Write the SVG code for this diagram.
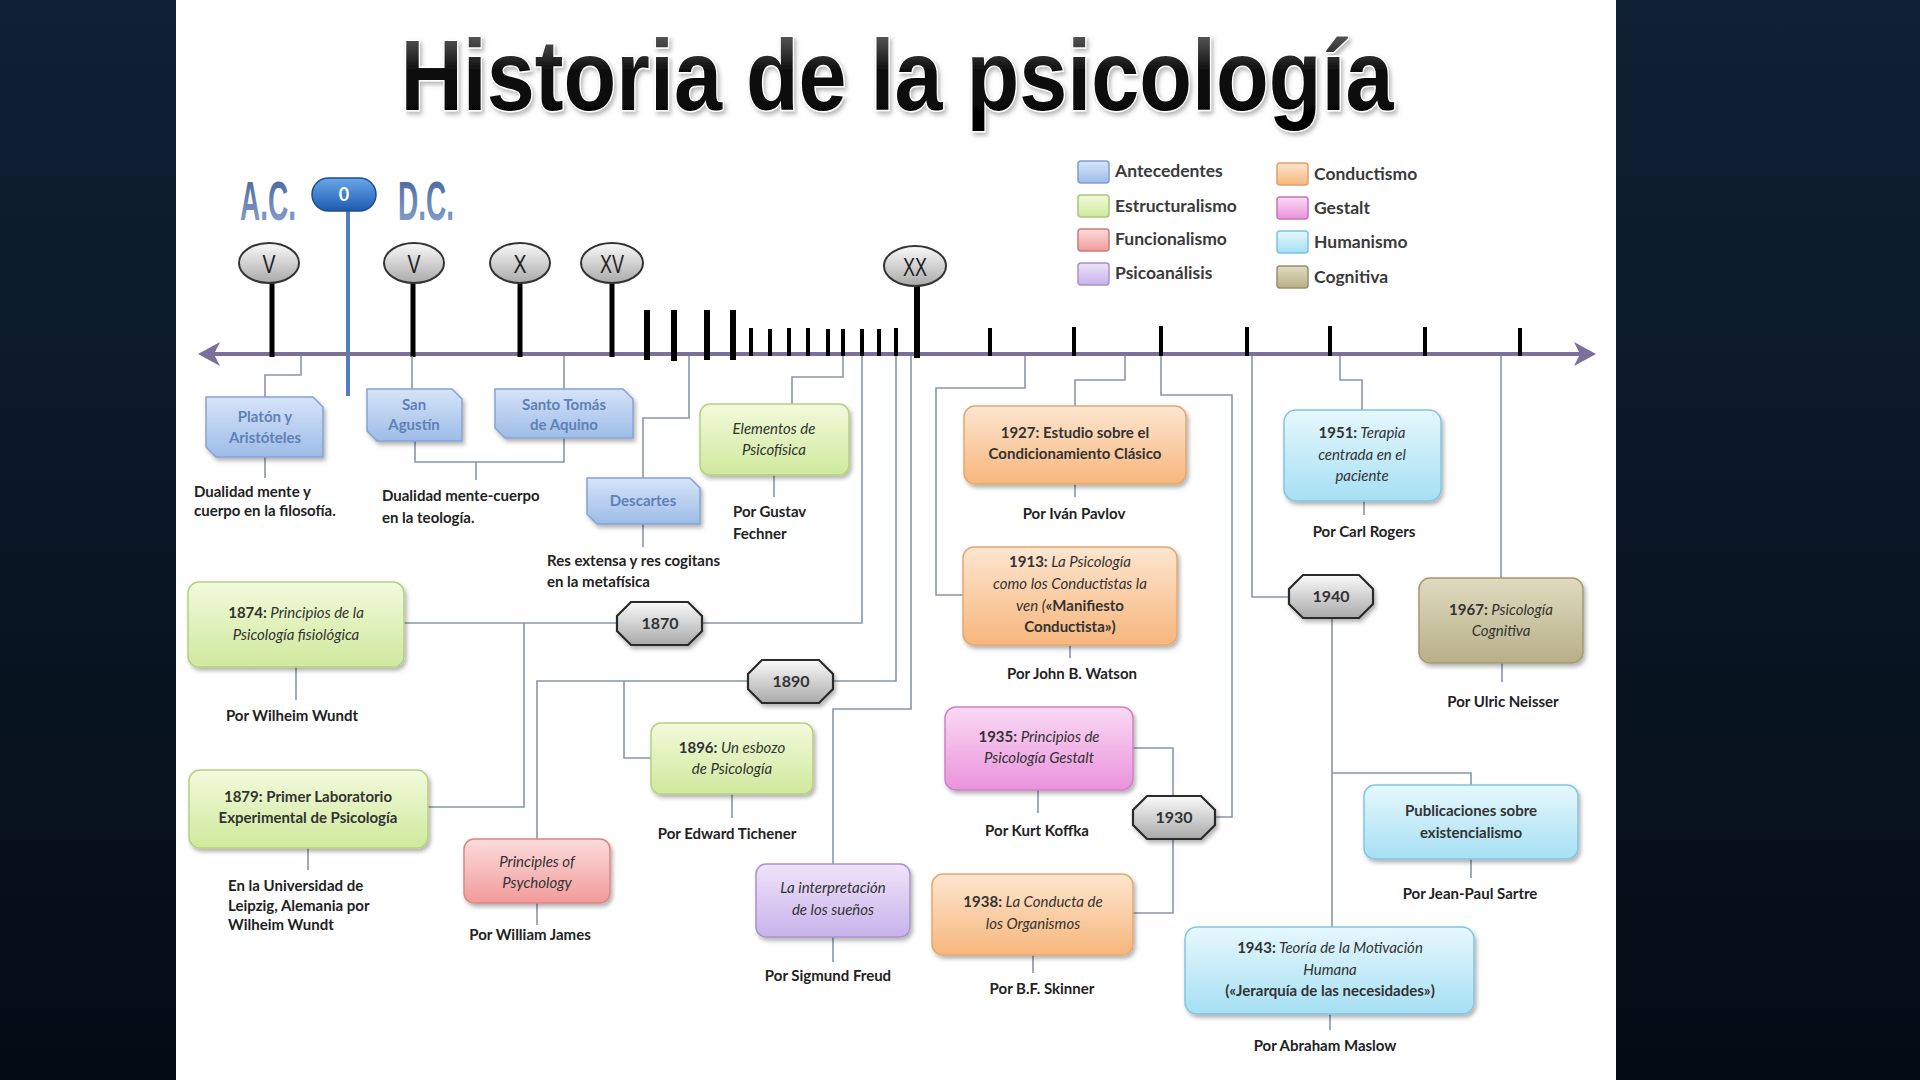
<svg xmlns="http://www.w3.org/2000/svg" width="1920" height="1080" viewBox="0 0 1920 1080">
<defs>
<linearGradient id="bg" x1="0" y1="0" x2="0" y2="1"><stop offset="0" stop-color="#0f2134"/><stop offset="1" stop-color="#040b15"/></linearGradient>
<linearGradient id="tg" x1="0" y1="0" x2="0" y2="1"><stop offset="0" stop-color="#777"/><stop offset="0.45" stop-color="#111"/><stop offset="1" stop-color="#000"/></linearGradient>
<linearGradient id="acg" x1="0" y1="0" x2="0" y2="1"><stop offset="0" stop-color="#3f5f98"/><stop offset="1" stop-color="#8fa8d0"/></linearGradient>
<linearGradient id="pill" x1="0" y1="0" x2="0" y2="1"><stop offset="0" stop-color="#6aa8ea"/><stop offset="1" stop-color="#1d5aae"/></linearGradient>
<linearGradient id="gray" x1="0" y1="0" x2="0" y2="1"><stop offset="0" stop-color="#fafafa"/><stop offset="1" stop-color="#a9a9a9"/></linearGradient>
<linearGradient id="gBlue" x1="0" y1="0" x2="0" y2="1"><stop offset="0" stop-color="#d6e4f8"/><stop offset="1" stop-color="#9dbce8"/></linearGradient>
<linearGradient id="gGreen" x1="0" y1="0" x2="0" y2="1"><stop offset="0" stop-color="#f2fadc"/><stop offset="1" stop-color="#cfe99c"/></linearGradient>
<linearGradient id="gRed" x1="0" y1="0" x2="0" y2="1"><stop offset="0" stop-color="#fcdcdc"/><stop offset="1" stop-color="#f29a9a"/></linearGradient>
<linearGradient id="gPurple" x1="0" y1="0" x2="0" y2="1"><stop offset="0" stop-color="#eee4fa"/><stop offset="1" stop-color="#c8b2ea"/></linearGradient>
<linearGradient id="gOrange" x1="0" y1="0" x2="0" y2="1"><stop offset="0" stop-color="#fde6d0"/><stop offset="1" stop-color="#f7b67c"/></linearGradient>
<linearGradient id="gPink" x1="0" y1="0" x2="0" y2="1"><stop offset="0" stop-color="#fadaf4"/><stop offset="1" stop-color="#ea92dc"/></linearGradient>
<linearGradient id="gCyan" x1="0" y1="0" x2="0" y2="1"><stop offset="0" stop-color="#e6f8fd"/><stop offset="1" stop-color="#a6dff3"/></linearGradient>
<linearGradient id="gKhaki" x1="0" y1="0" x2="0" y2="1"><stop offset="0" stop-color="#e0dbc0"/><stop offset="1" stop-color="#b8af88"/></linearGradient>
<filter id="sh" x="-10%" y="-10%" width="130%" height="140%"><feDropShadow dx="2" dy="3" stdDeviation="2" flood-color="#000" flood-opacity="0.3"/></filter>
<filter id="tsh" x="-5%" y="-10%" width="110%" height="130%"><feDropShadow dx="2" dy="3" stdDeviation="2" flood-color="#888" flood-opacity="0.6"/></filter>
<style>
.conn{fill:none;stroke:#8797ab;stroke-width:1.6}
.stick{stroke:#000;stroke-linecap:butt}
.lbl{font-family:Lato,"Liberation Sans",sans-serif;font-weight:700;font-size:15px;fill:#222}
.bt{font-family:Lato,"Liberation Sans",sans-serif;font-size:15px;fill:#333;text-anchor:middle}
.b{font-weight:700}
.i{font-style:italic}
.bluet{font-family:Lato,"Liberation Sans",sans-serif;font-size:15px;font-weight:700;fill:#6180b6;text-anchor:middle}
.leg{font-family:Lato,"Liberation Sans",sans-serif;font-size:17.5px;font-weight:700;fill:#3a3a3a}
.num{font-family:"Liberation Sans",sans-serif;font-size:26px;fill:#222;text-anchor:middle}
.yr{font-family:Lato,"Liberation Sans",sans-serif;font-size:16px;font-weight:700;fill:#333;text-anchor:middle}
.era{font-family:"Liberation Sans",sans-serif;font-weight:700;font-size:56px;fill:url(#acg);text-anchor:middle}
.oval{fill:url(#gray);stroke:#333;stroke-width:2}
.hex{fill:url(#gray);stroke:#2a2a2a;stroke-width:2.2}
</style>
</defs>
<rect x="0" y="0" width="1920" height="1080" fill="url(#bg)"/>
<rect x="176" y="0" width="1440" height="1080" fill="#fff"/>

<g id="title">
<text x="897" y="110" text-anchor="middle" font-family="'Liberation Sans',sans-serif" font-weight="700" font-size="100" textLength="993" lengthAdjust="spacingAndGlyphs" fill="url(#tg)" stroke="#fff" stroke-width="3" paint-order="stroke" filter="url(#tsh)">Historia de la psicología</text>
</g>

<g id="legend">
<rect x="1078" y="161" width="31" height="22" rx="3" fill="url(#gBlue)" stroke="#7f9fcf" stroke-width="1.5"/>
<rect x="1078" y="195" width="31" height="22" rx="3" fill="url(#gGreen)" stroke="#a9c67a" stroke-width="1.5"/>
<rect x="1078" y="229" width="31" height="22" rx="3" fill="url(#gRed)" stroke="#d07a7a" stroke-width="1.5"/>
<rect x="1078" y="263" width="31" height="22" rx="3" fill="url(#gPurple)" stroke="#a892c8" stroke-width="1.5"/>
<rect x="1277" y="163" width="31" height="22" rx="3" fill="url(#gOrange)" stroke="#e0a06a" stroke-width="1.5"/>
<rect x="1277" y="197" width="31" height="22" rx="3" fill="url(#gPink)" stroke="#c874b8" stroke-width="1.5"/>
<rect x="1277" y="231" width="31" height="22" rx="3" fill="url(#gCyan)" stroke="#7cc2de" stroke-width="1.5"/>
<rect x="1277" y="266" width="31" height="22" rx="3" fill="url(#gKhaki)" stroke="#99906a" stroke-width="1.5"/>
<text class="leg" x="1115" y="177">Antecedentes</text>
<text class="leg" x="1115" y="212">Estructuralismo</text>
<text class="leg" x="1115" y="245">Funcionalismo</text>
<text class="leg" x="1115" y="279">Psicoanálisis</text>
<text class="leg" x="1314" y="180">Conductismo</text>
<text class="leg" x="1314" y="214">Gestalt</text>
<text class="leg" x="1314" y="248">Humanismo</text>
<text class="leg" x="1314" y="283">Cognitiva</text>
</g>

<g id="era">
<text class="era" transform="translate(268,220) scale(0.5,1)">A.C.</text>
<text class="era" transform="translate(426,220) scale(0.5,1)">D.C.</text>
<line x1="348" y1="205" x2="348" y2="396" stroke="#4f7fc2" stroke-width="4"/>
<rect x="312" y="178" width="64" height="33" rx="16.5" fill="url(#pill)" stroke="#1b4f92" stroke-width="1.5"/>
<text x="344" y="201" text-anchor="middle" font-family="Lato,'Liberation Sans',sans-serif" font-weight="700" font-size="18" fill="#fff">0</text>
</g>

<g id="axis">
<line x1="206" y1="354" x2="1588" y2="354" stroke="#7b709c" stroke-width="4"/>
<path d="M198,354 L220,342 L214,354 L220,366 Z" fill="#7b709c"/>
<path d="M1596,354 L1574,342 L1580,354 L1574,366 Z" fill="#7b709c"/>
<g class="stick" stroke-width="5">
<line x1="272" y1="282" x2="272" y2="357"/>
<line x1="413" y1="282" x2="413" y2="357"/>
<line x1="520" y1="282" x2="520" y2="357"/>
<line x1="612" y1="282" x2="612" y2="357"/>
</g>
<line class="stick" x1="917" y1="285" x2="917" y2="358" stroke-width="6"/>
<g class="stick" stroke-width="6">
<line x1="647" y1="310" x2="647" y2="360"/>
<line x1="674" y1="310" x2="674" y2="361"/>
<line x1="707" y1="310" x2="707" y2="360"/>
<line x1="733" y1="310" x2="733" y2="360"/>
</g>
<g class="stick" stroke-width="4">
<line x1="751" y1="328" x2="751" y2="356"/>
<line x1="770" y1="329" x2="770" y2="356"/>
<line x1="789" y1="328" x2="789" y2="356"/>
<line x1="808" y1="328" x2="808" y2="356"/>
<line x1="828" y1="329" x2="828" y2="356"/>
<line x1="843" y1="329" x2="843" y2="356"/>
<line x1="862" y1="329" x2="862" y2="356"/>
<line x1="879" y1="329" x2="879" y2="356"/>
<line x1="896" y1="328" x2="896" y2="356"/>
<line x1="990" y1="328" x2="990" y2="356"/>
<line x1="1074" y1="327" x2="1074" y2="356"/>
<line x1="1161" y1="326" x2="1161" y2="356"/>
<line x1="1247" y1="327" x2="1247" y2="356"/>
<line x1="1330" y1="326" x2="1330" y2="356"/>
<line x1="1425" y1="327" x2="1425" y2="356"/>
<line x1="1520" y1="328" x2="1520" y2="356"/>
</g>
</g>

<g id="centuries">
<g id="c-v-ac"><ellipse class="oval" cx="269" cy="263" rx="30" ry="20"/><text class="num" x="269" y="273" textLength="13" lengthAdjust="spacingAndGlyphs">V</text></g>
<g id="c-v-dc"><ellipse class="oval" cx="414" cy="263" rx="30" ry="20"/><text class="num" x="414" y="273" textLength="13" lengthAdjust="spacingAndGlyphs">V</text></g>
<g id="c-x"><ellipse class="oval" cx="520" cy="263" rx="30" ry="20"/><text class="num" x="520" y="273" textLength="13" lengthAdjust="spacingAndGlyphs">X</text></g>
<g id="c-xv"><ellipse class="oval" cx="612" cy="263" rx="31" ry="20"/><text class="num" x="612" y="273" textLength="24" lengthAdjust="spacingAndGlyphs">XV</text></g>
<g id="c-xx"><ellipse class="oval" cx="915" cy="266" rx="31" ry="20"/><text class="num" x="915" y="276" textLength="24" lengthAdjust="spacingAndGlyphs">XX</text></g>
</g>

<g id="connectors" class="conn">
<path d="M301,356 V375 H265 V397"/>
<path d="M265,457 V478"/>
<path d="M412,356 V389"/>
<path d="M564,356 V389"/>
<path d="M415,441 V462 H564 V438"/>
<path d="M476,462 V480"/>
<path d="M689,356 V418 H643 V478"/>
<path d="M643,524 V547"/>
<path d="M843,356 V377 H792 V404"/>
<path d="M774,475 V497"/>
<path d="M404,623 H617"/>
<path d="M702,623 H862 V356"/>
<path d="M524,623 V807 H428"/>
<path d="M833,681 H896 V356"/>
<path d="M748,681 H537 V839"/>
<path d="M624,681 V758 H651"/>
<path d="M911,356 V709 H833 V864"/>
<path d="M833,937 V962"/>
<path d="M296,667 V700"/>
<path d="M308,848 V870"/>
<path d="M732,794 V818"/>
<path d="M537,903 V925"/>
<path d="M1125,356 V380 H1075 V406"/>
<path d="M1075,484 V497"/>
<path d="M1025,356 V388 H936 V595 H963"/>
<path d="M1070,645 V658"/>
<path d="M1161,356 V395 H1232 V817 H1215"/>
<path d="M1173,796 V748 H1133"/>
<path d="M1173,839 V913 H1133"/>
<path d="M1038,790 V813"/>
<path d="M1033,955 V973"/>
<path d="M1252,356 V597 H1289"/>
<path d="M1332,618 V927"/>
<path d="M1332,773 H1471 V785"/>
<path d="M1340,356 V380 H1362 V410"/>
<path d="M1364,501 V515"/>
<path d="M1501,356 V578"/>
<path d="M1502,663 V682"/>
<path d="M1471,859 V878"/>
<path d="M1330,1014 V1030"/>
</g>

<g id="n-platon">
<path d="M206,397 H313 L323,407 V457 H216 L206,447 Z" fill="url(#gBlue)" stroke="#86a3d2" stroke-width="1.5" filter="url(#sh)"/>
<text class="bluet" x="265" y="422">Platón y</text>
<text class="bluet" x="265" y="443">Aristóteles</text>
</g>
<g id="t-platon"><text class="lbl" x="194" y="497" font-size="13">Dualidad mente y</text><text class="lbl" x="194" y="516" font-size="13">cuerpo en la filosofía.</text></g>

<g id="n-agustin">
<path d="M367,389 H452 L462,399 V441 H377 L367,431 Z" fill="url(#gBlue)" stroke="#86a3d2" stroke-width="1.5" filter="url(#sh)"/>
<text class="bluet" x="414" y="410">San</text>
<text class="bluet" x="414" y="430">Agustín</text>
</g>
<g id="n-tomas">
<path d="M495,389 H623 L633,399 V438 H505 L495,428 Z" fill="url(#gBlue)" stroke="#86a3d2" stroke-width="1.5" filter="url(#sh)"/>
<text class="bluet" x="564" y="410">Santo Tomás</text>
<text class="bluet" x="564" y="430">de Aquino</text>
</g>
<g id="t-teologia"><text class="lbl" x="382" y="501">Dualidad mente-cuerpo</text><text class="lbl" x="382" y="523">en la teología.</text></g>

<g id="n-descartes">
<path d="M587,478 H690 L700,488 V524 H597 L587,514 Z" fill="url(#gBlue)" stroke="#86a3d2" stroke-width="1.5" filter="url(#sh)"/>
<text class="bluet" x="643" y="506">Descartes</text>
</g>
<g id="t-descartes"><text class="lbl" x="547" y="566">Res extensa y res cogitans</text><text class="lbl" x="547" y="587">en la metafísica</text></g>

<g id="n-elementos">
<rect x="700" y="404" width="149" height="71" rx="10" fill="url(#gGreen)" stroke="#b6d083" stroke-width="1.5" filter="url(#sh)"/>
<text class="bt i" x="774" y="434">Elementos de</text>
<text class="bt i" x="774" y="455">Psicofísica</text>
</g>
<g id="t-fechner"><text class="lbl" x="733" y="517">Por Gustav</text><text class="lbl" x="733" y="539">Fechner</text></g>

<g id="n-1874">
<rect x="188" y="582" width="216" height="85" rx="11" fill="url(#gGreen)" stroke="#b6d083" stroke-width="1.5" filter="url(#sh)"/>
<text class="bt" x="296" y="618"><tspan class="b">1874:</tspan><tspan class="i"> Principios de la</tspan></text>
<text class="bt i" x="296" y="640">Psicología fisiológica</text>
</g>
<text class="lbl" x="292" y="721" text-anchor="middle">Por Wilheim Wundt</text>

<g id="n-1879">
<rect x="189" y="770" width="239" height="78" rx="11" fill="url(#gGreen)" stroke="#b6d083" stroke-width="1.5" filter="url(#sh)"/>
<text class="bt b" x="308" y="802">1879: Primer Laboratorio</text>
<text class="bt b" x="308" y="823">Experimental de Psicología</text>
</g>
<g id="t-leipzig"><text class="lbl" x="228" y="891" font-size="14">En la Universidad de</text><text class="lbl" x="228" y="911" font-size="14">Leipzig, Alemania por</text><text class="lbl" x="228" y="930" font-size="14">Wilheim Wundt</text></g>

<g id="y-1870"><path class="hex" d="M631,602 H688 L702,616 V631 L688,645 H631 L617,631 V616 Z" filter="url(#sh)"/><text class="yr" x="660" y="629">1870</text></g>
<g id="y-1890"><path class="hex" d="M762,660 H819 L833,674 V689 L819,703 H762 L748,689 V674 Z" filter="url(#sh)"/><text class="yr" x="791" y="687">1890</text></g>

<g id="n-1896">
<rect x="651" y="723" width="162" height="71" rx="10" fill="url(#gGreen)" stroke="#b6d083" stroke-width="1.5" filter="url(#sh)"/>
<text class="bt" x="732" y="753"><tspan class="b">1896:</tspan><tspan class="i"> Un esbozo</tspan></text>
<text class="bt i" x="732" y="774">de Psicología</text>
</g>
<text class="lbl" x="727" y="839" text-anchor="middle">Por Edward Tichener</text>

<g id="n-james">
<rect x="464" y="839" width="146" height="64" rx="10" fill="url(#gRed)" stroke="#db8585" stroke-width="1.5" filter="url(#sh)"/>
<text class="bt i" x="537" y="867">Principles of</text>
<text class="bt i" x="537" y="888">Psychology</text>
</g>
<text class="lbl" x="530" y="940" text-anchor="middle">Por William James</text>

<g id="n-freud">
<rect x="756" y="864" width="154" height="73" rx="10" fill="url(#gPurple)" stroke="#a993cb" stroke-width="1.5" filter="url(#sh)"/>
<text class="bt i" x="833" y="893">La interpretación</text>
<text class="bt i" x="833" y="915">de los sueños</text>
</g>
<text class="lbl" x="828" y="981" text-anchor="middle">Por Sigmund Freud</text>

<g id="n-1927">
<rect x="964" y="406" width="222" height="78" rx="11" fill="url(#gOrange)" stroke="#e5a870" stroke-width="1.5" filter="url(#sh)"/>
<text class="bt b" x="1075" y="438">1927: Estudio sobre el</text>
<text class="bt b" x="1075" y="459">Condicionamiento Clásico</text>
</g>
<text class="lbl" x="1074" y="519" text-anchor="middle">Por Iván Pavlov</text>

<g id="n-1913">
<rect x="963" y="547" width="214" height="98" rx="11" fill="url(#gOrange)" stroke="#e5a870" stroke-width="1.5" filter="url(#sh)"/>
<text class="bt" x="1070" y="567"><tspan class="b">1913:</tspan><tspan class="i"> La Psicología</tspan></text>
<text class="bt i" x="1070" y="589">como los Conductistas la</text>
<text class="bt" x="1070" y="611"><tspan class="i">ven (</tspan><tspan class="b">«Manifiesto</tspan></text>
<text class="bt b" x="1070" y="632">Conductista»)</text>
</g>
<text class="lbl" x="1072" y="679" text-anchor="middle">Por John B. Watson</text>

<g id="n-1935">
<rect x="945" y="707" width="188" height="83" rx="11" fill="url(#gPink)" stroke="#d27fc4" stroke-width="1.5" filter="url(#sh)"/>
<text class="bt" x="1039" y="742" fill="#4a2548"><tspan class="b">1935:</tspan><tspan class="i"> Principios de</tspan></text>
<text class="bt i" x="1039" y="763" fill="#4a2548">Psicología Gestalt</text>
</g>
<text class="lbl" x="1037" y="836" text-anchor="middle">Por Kurt Koffka</text>

<g id="y-1930"><path class="hex" d="M1147,796 H1201 L1215,810 V825 L1201,839 H1147 L1133,825 V810 Z" filter="url(#sh)"/><text class="yr" x="1174" y="823">1930</text></g>

<g id="n-1938">
<rect x="932" y="874" width="201" height="81" rx="11" fill="url(#gOrange)" stroke="#e5a870" stroke-width="1.5" filter="url(#sh)"/>
<text class="bt" x="1033" y="907"><tspan class="b">1938:</tspan><tspan class="i"> La Conducta de</tspan></text>
<text class="bt i" x="1033" y="929">los Organismos</text>
</g>
<text class="lbl" x="1042" y="994" text-anchor="middle">Por B.F. Skinner</text>

<g id="n-1951">
<rect x="1284" y="410" width="157" height="91" rx="12" fill="url(#gCyan)" stroke="#80c6e0" stroke-width="1.5" filter="url(#sh)"/>
<text class="bt" x="1362" y="438"><tspan class="b">1951:</tspan><tspan class="i"> Terapia</tspan></text>
<text class="bt i" x="1362" y="460">centrada en el</text>
<text class="bt i" x="1362" y="481">paciente</text>
</g>
<text class="lbl" x="1364" y="537" text-anchor="middle">Por Carl Rogers</text>

<g id="y-1940"><path class="hex" d="M1303,575 H1359 L1373,589 V604 L1359,618 H1303 L1289,604 V589 Z" filter="url(#sh)"/><text class="yr" x="1331" y="602">1940</text></g>

<g id="n-1967">
<rect x="1419" y="578" width="164" height="85" rx="11" fill="url(#gKhaki)" stroke="#a39b74" stroke-width="1.5" filter="url(#sh)"/>
<text class="bt" x="1501" y="615"><tspan class="b">1967:</tspan><tspan class="i"> Psicología</tspan></text>
<text class="bt i" x="1501" y="636">Cognitiva</text>
</g>
<text class="lbl" x="1503" y="707" text-anchor="middle">Por Ulric Neisser</text>

<g id="n-sartre">
<rect x="1364" y="785" width="214" height="74" rx="11" fill="url(#gCyan)" stroke="#80c6e0" stroke-width="1.5" filter="url(#sh)"/>
<text class="bt b" x="1471" y="816">Publicaciones sobre</text>
<text class="bt b" x="1471" y="838">existencialismo</text>
</g>
<text class="lbl" x="1470" y="899" text-anchor="middle">Por Jean-Paul Sartre</text>

<g id="n-1943">
<rect x="1185" y="927" width="289" height="87" rx="12" fill="url(#gCyan)" stroke="#80c6e0" stroke-width="1.5" filter="url(#sh)"/>
<text class="bt" x="1330" y="953"><tspan class="b">1943:</tspan><tspan class="i"> Teoría de la Motivación</tspan></text>
<text class="bt i" x="1330" y="975">Humana</text>
<text class="bt b" x="1330" y="996">(«Jerarquía de las necesidades»)</text>
</g>
<text class="lbl" x="1325" y="1051" text-anchor="middle">Por Abraham Maslow</text>
</svg>
